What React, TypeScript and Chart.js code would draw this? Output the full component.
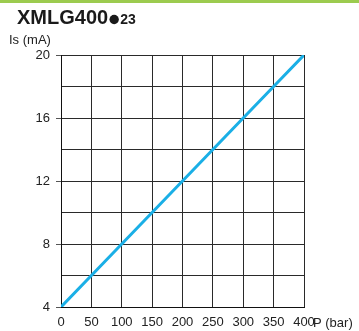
import React, { useEffect, useRef } from "react";
import { Chart, registerables } from "chart.js";

Chart.register(...registerables);

const pressureBar = [0, 50, 100, 150, 200, 250, 300, 350, 400];
const currentMA = [4, 6, 8, 10, 12, 14, 16, 18, 20];
const titleMain = "XMLG400";
const titleSuffix = "23";
const yAxisTitle = "Is (mA)";
const xAxisTitle = "P (bar)";

const FONT = '"Liberation Sans", Arial, sans-serif';
const GRID = "#2a2a2a";

const decorPlugin = {
  id: "decor",
  afterDraw(chart: any) {
    const ctx = chart.ctx as CanvasRenderingContext2D;
    ctx.save();
    // green top bar
    ctx.fillStyle = "#9ccb4f";
    ctx.fillRect(0, 0, chart.width, 3);
    // title
    ctx.fillStyle = "#1a1a1a";
    ctx.textBaseline = "alphabetic";
    ctx.textAlign = "left";
    ctx.font = `bold 20px ${FONT}`;
    const x0 = 17;
    ctx.fillText(titleMain, x0, 24);
    const w1 = ctx.measureText(titleMain).width;
    ctx.beginPath();
    ctx.arc(x0 + w1 + 6, 19.5, 4.7, 0, Math.PI * 2);
    ctx.fill();
    ctx.font = `bold 14px ${FONT}`;
    ctx.fillText(titleSuffix, x0 + w1 + 12, 24);
    // axis titles
    ctx.font = `13px ${FONT}`;
    ctx.fillStyle = "#222";
    ctx.fillText(yAxisTitle, 9, 44);
    const xs = chart.scales.x;
    ctx.fillText(xAxisTitle, xs.right + 9, 327);
    ctx.restore();
  },
};

export default function App() {
  const ref = useRef<HTMLCanvasElement | null>(null);
  useEffect(() => {
    if (!ref.current) return;
    const chart = new Chart(ref.current, {
      type: "line",
      data: {
        datasets: [
          {
            data: pressureBar.map((p, i) => ({ x: p, y: currentMA[i] })),
            borderColor: "#1aafe6",
            borderWidth: 3,
            pointRadius: 0,
            tension: 0,
            fill: false,
          },
        ],
      },
      plugins: [decorPlugin],
      options: {
        responsive: false,
        animation: false,
        events: [],
        layout: { padding: { left: 0, right: 55, top: 55, bottom: 0 } },
        plugins: {
          legend: { display: false },
          tooltip: { enabled: false },
          title: { display: false },
        },
        scales: {
          x: {
            type: "linear",
            min: 0,
            max: 400,
            afterFit: (s: any) => {
              s.height = 24;
            },
            ticks: {
              stepSize: 50,
              padding: 8,
              color: "#222",
              font: { family: FONT, size: 13 },
              maxRotation: 0,
              autoSkip: false,
            },
            grid: { color: GRID, lineWidth: 1, drawTicks: false },
            border: { color: "#111", width: 1 },
          },
          y: {
            type: "linear",
            min: 4,
            max: 20,
            afterFit: (s: any) => {
              s.width = 61;
            },
            ticks: {
              stepSize: 2,
              padding: 6,
              color: "#222",
              font: { family: FONT, size: 13 },
              autoSkip: false,
              callback: (v: any) => (Number(v) % 4 === 0 ? String(v) : ""),
            },
            grid: {
              color: GRID,
              lineWidth: 1,
              tickLength: 5,
              tickColor: (c: any) =>
                c.tick && c.tick.value % 4 === 0 ? "#555" : "rgba(0,0,0,0)",
            },
            border: { color: "#111", width: 1 },
          },
        },
      },
    });
    return () => chart.destroy();
  }, []);
  return (
    <div style={{ position: "absolute", left: 0, top: 0, width: 359, height: 331, background: "#fff" }}>
      <canvas ref={ref} width={359} height={331} style={{ display: "block" }} />
    </div>
  );
}
